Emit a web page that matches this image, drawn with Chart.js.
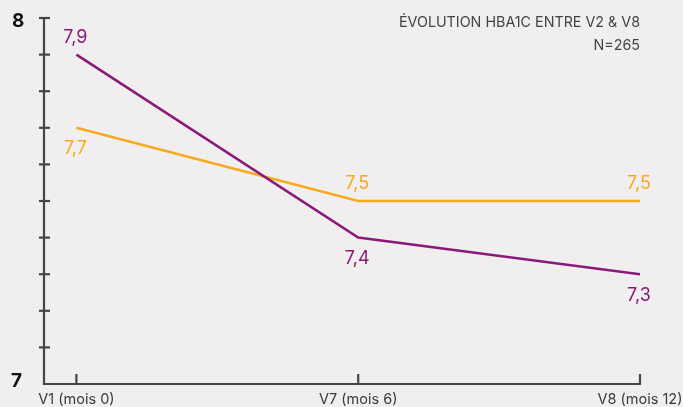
<!DOCTYPE html>
<html><head><meta charset="utf-8">
<script src="https://cdn.jsdelivr.net/npm/chart.js@4/dist/chart.umd.min.js"></script>
<style>
html,body{margin:0;padding:0;background:#f0eeef;}
#wrap{width:683px;height:407px;position:relative;}
</style></head>
<body><div id="wrap"><canvas id="c" width="683" height="407"></canvas></div>
<script>
const categories = ["V1 (mois 0)", "V7 (mois 6)", "V8 (mois 12)"];
const seriesPurple = [7.9, 7.4, 7.3];
const seriesOrange = [7.7, 7.5, 7.5];
const yTickLabels = ["7", "8"];
const titleLines = ["ÉVOLUTION HBA1C ENTRE V2 & V8", "N=265"];

const PURPLE = "#8a1a78", ORANGE = "#f6ab1e", AXIS = "#454545", TEXT = "#3a3a3a";
const FONT = "Inter, 'Noto Sans', sans-serif";
const fmt = v => v.toFixed(1).replace(".", ",");

const drawPlugin = {
  id: "custom",
  afterDatasetsDraw(chart) {
    const ctx = chart.ctx, x = chart.scales.x, y = chart.scales.y;
    const yAxisX = x.getPixelForValue(-0.115);
    const x0 = yAxisX, x1 = x.getPixelForValue(2);
    const yTop = y.getPixelForValue(8), yBot = y.getPixelForValue(7);
    ctx.save();
    ctx.strokeStyle = AXIS; ctx.lineWidth = 2.2; ctx.lineCap = "butt";
    ctx.beginPath(); ctx.moveTo(yAxisX, yTop); ctx.lineTo(yAxisX, yBot + 1); ctx.stroke();
    for (let i = 1; i <= 10; i++) {
      const py = y.getPixelForValue(7 + i / 10);
      ctx.beginPath(); ctx.moveTo(yAxisX - 5, py); ctx.lineTo(yAxisX + 6, py); ctx.stroke();
    }
    ctx.beginPath(); ctx.moveTo(x0 - 1, yBot); ctx.lineTo(x1 + 1, yBot); ctx.stroke();
    categories.forEach((c, i) => {
      const px = x.getPixelForValue(i);
      ctx.beginPath(); ctx.moveTo(px, yBot); ctx.lineTo(px, yBot - 10); ctx.stroke();
    });
    ctx.fillStyle = "#111"; ctx.font = "bold 19px " + FONT;
    ctx.textAlign = "left"; ctx.textBaseline = "middle";
    ctx.fillText(yTickLabels[1], 12, yTop + 3);
    ctx.fillText(yTickLabels[0], 11, yBot - 3);
    ctx.fillStyle = TEXT; ctx.font = "14.5px " + FONT; ctx.textAlign = "center"; ctx.textBaseline = "middle";
    categories.forEach((c, i) => ctx.fillText(c, x.getPixelForValue(i), yBot + 16));
    ctx.textAlign = "right"; ctx.font = "14.3px " + FONT; ctx.fillStyle = "#444";
    ctx.fillText(titleLines[0], x1, 23);
    ctx.fillText(titleLines[1], x1, 46);
    ctx.font = "18px " + FONT; ctx.textAlign = "center";
    const pos = [[-1, 1, 1], [1, -1, -1]];
    chart.data.datasets.forEach((ds, di) => {
      ctx.fillStyle = ds.borderColor;
      ds.data.forEach((p, i) => {
        const px = x.getPixelForValue(p.x), py = y.getPixelForValue(p.y);
        ctx.fillText(fmt(p.y), px - 1, py + pos[di][i] * 19 + 2);
      });
    });
    ctx.restore();
  }
};

new Chart(document.getElementById("c"), {
  type: "line",
  data: {
    datasets: [
      { label: "A", data: seriesPurple.map((v, i) => ({x: i, y: v})), borderColor: PURPLE, borderWidth: 2.6, pointRadius: 0, tension: 0 },
      { label: "B", data: seriesOrange.map((v, i) => ({x: i, y: v})), borderColor: ORANGE, borderWidth: 2.6, pointRadius: 0, tension: 0 }
    ]
  },
  options: {
    responsive: false, animation: false,
    layout: { padding: { left: 44, right: 43, top: 18, bottom: 23 } },
    plugins: { legend: { display: false }, tooltip: { enabled: false } },
    scales: {
      x: { type: "linear", min: -0.115, max: 2, display: false },
      y: { type: "linear", min: 7, max: 8, display: false }
    }
  },
  plugins: [drawPlugin]
});
</script></body></html>
